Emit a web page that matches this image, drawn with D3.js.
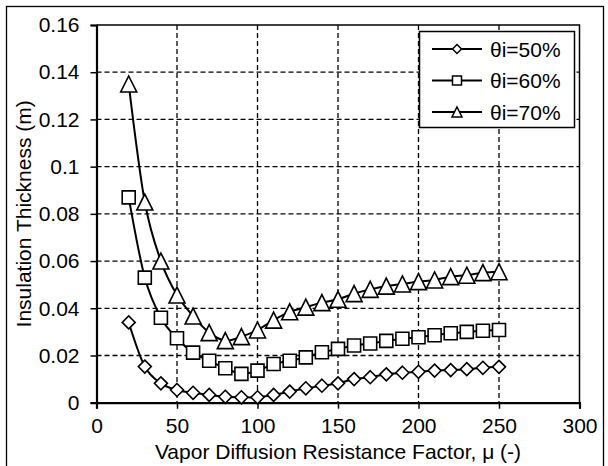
<!DOCTYPE html>
<html lang = "en">
<head>
  <title>Insulation thickness</title>
  <script src="https://cdn.jsdelivr.net/npm/d3@7"></script>
  <meta charset="utf-8">
  <style>
    body { margin: 0; background: #fff; }
    text { font-family: "Liberation Sans", Arial, sans-serif; fill: #000; }
    .grid line { stroke: #000; stroke-width: 1.3; stroke-dasharray: 5,3; }
  </style>
</head>

<body>
  <script>
  // data
  var mu = [20, 30, 40, 50, 60, 70, 80, 90, 100, 110, 120, 130, 140, 150, 160, 170, 180, 190, 200, 210, 220, 230, 240, 250];
  var theta50 = [0.034, 0.0153, 0.0082, 0.0054, 0.0042, 0.0033, 0.0025, 0.0023, 0.0023, 0.0033, 0.0047, 0.0061, 0.0072, 0.0082, 0.0100, 0.0108, 0.0120, 0.0127, 0.0131, 0.0136, 0.0138, 0.0142, 0.0148, 0.0152];
  var theta60 = [0.087, 0.053, 0.036, 0.0273, 0.0212, 0.0178, 0.0146, 0.0122, 0.0136, 0.0164, 0.0178, 0.0192, 0.0214, 0.0228, 0.0242, 0.0251, 0.0262, 0.0271, 0.0277, 0.0286, 0.0294, 0.0300, 0.0305, 0.0308];
  var theta70 = [0.135, 0.085, 0.060, 0.0456, 0.0367, 0.0297, 0.0263, 0.028, 0.0308, 0.035, 0.0385, 0.0405, 0.0424, 0.0438, 0.0462, 0.048, 0.0494, 0.0503, 0.0513, 0.052, 0.0534, 0.054, 0.0551, 0.0555];
  var seriesNames = ["θi=50%", "θi=60%", "θi=70%"];
  var markerKinds = ["diamond", "square", "triangle"];
  var xTicks = [0, 50, 100, 150, 200, 250, 300];
  var yTicks = [0, 0.02, 0.04, 0.06, 0.08, 0.1, 0.12, 0.14, 0.16];

  var width = 608;
  var height = 466;
  // plot area edges (window.top is taken, so own names)
  var pLeft = 96.5, pRight = 579.5, pTop = 25, pBottom = 402.7;
  var fontSize = 21;

  var svg = d3.select("body")
    .append("svg")
    .attr("width", width)
    .attr("height", height);

  // outer chart frame
  svg.append("rect")
    .attr("x", 6.5).attr("y", 6.5)
    .attr("width", 597).attr("height", 470)
    .attr("fill", "#fff")
    .attr("stroke", "#000")
    .attr("stroke-width", 1.3);

  var x = d3.scaleLinear().domain([0, 300]).range([pLeft, pRight]);
  var y = d3.scaleLinear().domain([0, 0.16]).range([pBottom, pTop]);

  // dashed grid
  var grid = svg.append("g").attr("class", "grid");
  grid.selectAll(".gx")
    .data(xTicks.slice(1, -1))
    .enter().append("line")
    .attr("x1", d => x(d)).attr("x2", d => x(d))
    .attr("y1", pTop).attr("y2", pBottom);
  grid.selectAll(".gy")
    .data(yTicks.slice(1, -1))
    .enter().append("line")
    .attr("x1", pLeft).attr("x2", pRight)
    .attr("y1", d => y(d)).attr("y2", d => y(d));

  // top and right border
  svg.append("path")
    .attr("d", "M" + pLeft + "," + pTop + "H" + pRight + "V" + pBottom)
    .attr("fill", "none")
    .attr("stroke", "#000")
    .attr("stroke-width", 1.5);

  // axes
  var xAxis = svg.append("g")
    .attr("transform", "translate(0," + pBottom + ")")
    .call(d3.axisBottom(x).tickValues(xTicks).tickFormat(d3.format("d")).tickSizeOuter(0).tickSize(6).tickPadding(9));
  var yAxis = svg.append("g")
    .attr("transform", "translate(" + pLeft + ",0)")
    .call(d3.axisLeft(y).tickValues(yTicks).tickFormat(d => d === 0 ? "0" : String(+d.toFixed(2))).tickSizeOuter(0).tickSize(6).tickPadding(11));
  [xAxis, yAxis].forEach(function (a) {
    a.select(".domain").attr("stroke", "#000").attr("stroke-width", 2.2);
    a.selectAll(".tick line").attr("stroke", "#000").attr("stroke-width", 1.5);
    a.selectAll("text").attr("font-size", fontSize).attr("font-family", "Liberation Sans, Arial, sans-serif");
  });

  // axis titles
  svg.append("text")
    .attr("x", 338).attr("y", 459)
    .attr("text-anchor", "middle")
    .attr("font-size", fontSize)
    .text("Vapor Diffusion Resistance Factor, μ (-)");
  svg.append("text")
    .attr("transform", "translate(31," + ((pTop + pBottom) / 2) + ") rotate(-90)")
    .attr("text-anchor", "middle")
    .attr("font-size", fontSize)
    .text("Insulation Thickness (m)");

  // markers
  function markerPath(kind, s) {
    if (kind === "diamond") return "M0," + (-s) + "L" + s + ",0L0," + s + "L" + (-s) + ",0Z";
    if (kind === "square") return "M" + (-s) + "," + (-s) + "H" + s + "V" + s + "H" + (-s) + "Z";
    return "M0," + (-s) + "L" + s + "," + s + "H" + (-s) + "Z";
  }
  var markerSize = {diamond: 6.5, square: 6.5, triangle: 8};

  var allSeries = [theta50, theta60, theta70];
  var line = d3.line()
    .x((d, i) => x(mu[i]))
    .y(d => y(d))
    .curve(d3.curveCatmullRom.alpha(0));

  var plot = svg.append("g");
  allSeries.forEach(function (vals) {
    plot.append("path")
      .attr("d", line(vals))
      .attr("fill", "none")
      .attr("stroke", "#000")
      .attr("stroke-width", 2);
  });
  allSeries.forEach(function (vals, k) {
    plot.selectAll(".m" + k)
      .data(vals)
      .enter().append("path")
      .attr("transform", (d, i) => "translate(" + x(mu[i]) + "," + y(d) + ")")
      .attr("d", markerPath(markerKinds[k], markerSize[markerKinds[k]]))
      .attr("fill", "#fff")
      .attr("stroke", "#000")
      .attr("stroke-width", 1.6);
  });

  // legend
  var legend = svg.append("g");
  legend.append("rect")
    .attr("x", 419.5).attr("y", 31.5)
    .attr("width", 155).attr("height", 96)
    .attr("fill", "#fff")
    .attr("stroke", "#000")
    .attr("stroke-width", 1.5);
  var rows = legend.selectAll(".row")
    .data(seriesNames)
    .enter().append("g")
    .attr("transform", (d, i) => "translate(0," + (49 + i * 31.5) + ")");
  rows.append("line")
    .attr("x1", 432).attr("x2", 482)
    .attr("stroke", "#000").attr("stroke-width", 2);
  rows.append("path")
    .attr("transform", "translate(457,0)")
    .attr("d", (d, i) => markerPath(markerKinds[i], markerKinds[i] === "triangle" ? 5 : 4.5))
    .attr("fill", "#fff")
    .attr("stroke", "#000")
    .attr("stroke-width", 1.5);
  rows.append("text")
    .attr("x", 490).attr("y", 7.5)
    .attr("font-size", fontSize)
    .text(d => d);
  </script>
</body>
</html>
